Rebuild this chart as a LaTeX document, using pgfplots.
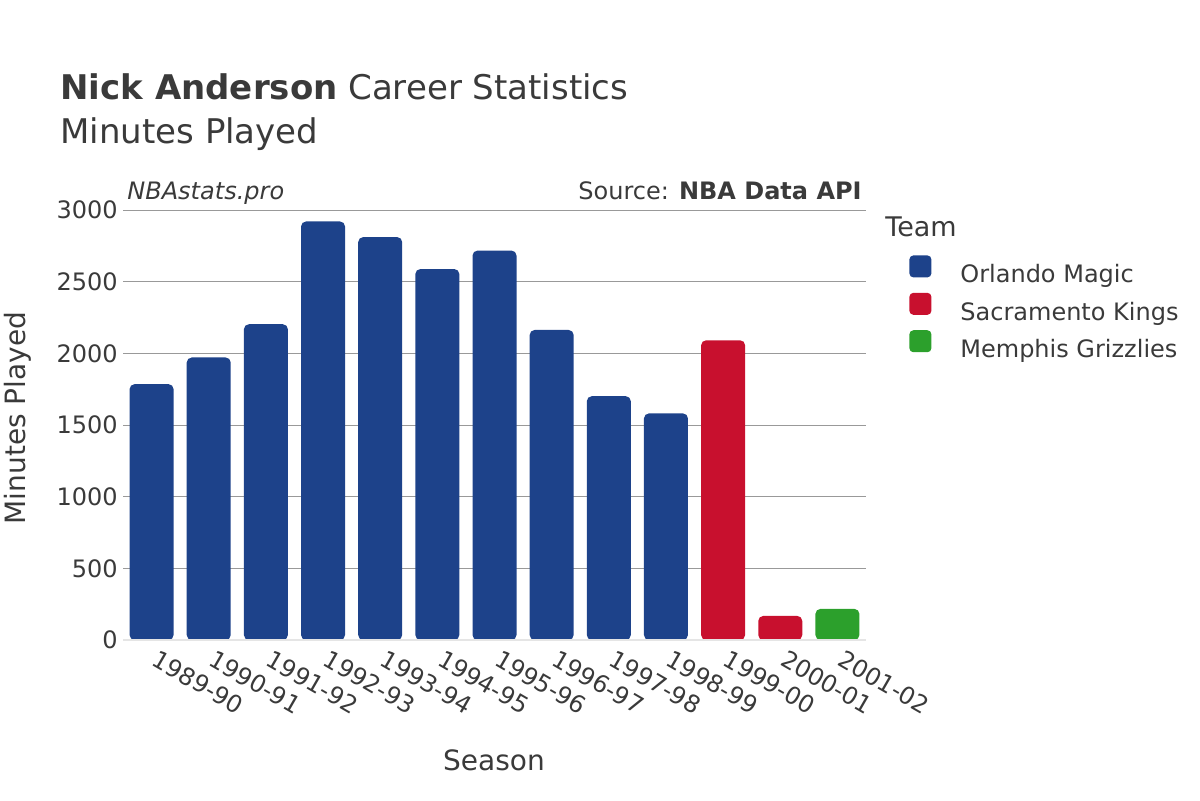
\documentclass[border=0pt]{standalone}
\usepackage{pgfplots}
\pgfplotsset{compat=1.18}
\usepackage{fontspec}
\setmainfont{DejaVu Sans}
\definecolor{txt}{HTML}{3A3A3A}
\definecolor{orl}{HTML}{1D428A}
\definecolor{sac}{HTML}{C8102E}
\definecolor{mem}{HTML}{2CA02C}
\begin{document}
\begin{tikzpicture}
\path[use as bounding box] (0,0) rectangle (600pt,400pt);
\begin{axis}[
  at={(61.5pt,80pt)}, anchor=south west,
  scale only axis, width=371.5pt, height=215pt,
  xmin=-0.5, xmax=12.5, ymin=0, ymax=3000,
  ybar, bar width=22pt, bar shift=0pt,
  xtick={0,...,12},
  xticklabels={1989-90,1990-91,1991-92,1992-93,1993-94,1994-95,1995-96,1996-97,1997-98,1998-99,1999-00,2000-01,2001-02},
  ytick={0,500,...,3000},
  ymajorgrids, grid style={draw=black!40, line width=0.5pt},
  axis line style={draw=none}, major tick length=0pt,
  tick label style={font=\fontsize{12pt}{14pt}\selectfont, text=txt},
  /pgf/number format/assume math mode=true,
  /pgf/number format/1000 sep={},
  yticklabel style={anchor=east, inner sep=0pt, xshift=-2.5pt},
  xticklabel style={rotate=-30, anchor=north west, inner sep=0pt, xshift=5.5pt, yshift=-2pt},
  legend style={at={(1,1)}, anchor=north west, xshift=18.5pt, yshift=-20.5pt, draw=none, fill=none,
    font=\fontsize{12pt}{14pt}\selectfont, text=txt,
    row sep=1.5pt,
    /tikz/every odd column/.append style={column sep=12.5pt}},
  legend cell align=left,
  legend image code/.code={\fill[rounded corners=2pt] (0pt,-1.1pt) rectangle (11pt,9.9pt);},
]
\addplot[fill=orl, draw=none, rounded corners=2.5pt] coordinates {
 (0,1785) (1,1971) (2,2203) (3,2920) (4,2811) (5,2588) (6,2717) (7,2163) (8,1701) (9,1581)};
\addlegendentry{Orlando Magic}
\addplot[fill=sac, draw=none, rounded corners=2.5pt] coordinates {(10,2091) (11,168)};
\addlegendentry{Sacramento Kings}
\addplot[fill=mem, draw=none, rounded corners=2.5pt] coordinates {(12,217)};
\addlegendentry{Memphis Grizzlies}
\draw[black!10, line width=1.5pt] (axis cs:-0.5,0) -- (axis cs:12.5,0);
\end{axis}
\node[anchor=base west, text=txt, inner sep=0pt, font=\fontsize{17pt}{20pt}\selectfont] at (30pt,350pt) {\textbf{Nick Anderson} Career Statistics};
\node[anchor=base west, text=txt, inner sep=0pt, font=\fontsize{17pt}{20pt}\selectfont] at (30pt,328pt) {Minutes Played};
\node[anchor=base west, text=txt, inner sep=0pt, font=\fontsize{12pt}{14pt}\selectfont\itshape] at (63.5pt,300.5pt) {NBAstats.pro};
\node[anchor=base east, text=txt, inner sep=0pt, font=\fontsize{12pt}{14pt}\selectfont] at (431pt,300.5pt) {Source: \textbf{NBA Data API}};
\node[anchor=base west, text=txt, inner sep=0pt, font=\fontsize{13.5pt}{16pt}\selectfont] at (442.5pt,282pt) {Team};
\node[rotate=90, text=txt, inner sep=0pt, font=\fontsize{14pt}{16pt}\selectfont] at (9pt,191pt) {Minutes Played};
\node[anchor=base, text=txt, inner sep=0pt, font=\fontsize{14pt}{16pt}\selectfont] at (247pt,15pt) {Season};
\end{tikzpicture}
\end{document}
